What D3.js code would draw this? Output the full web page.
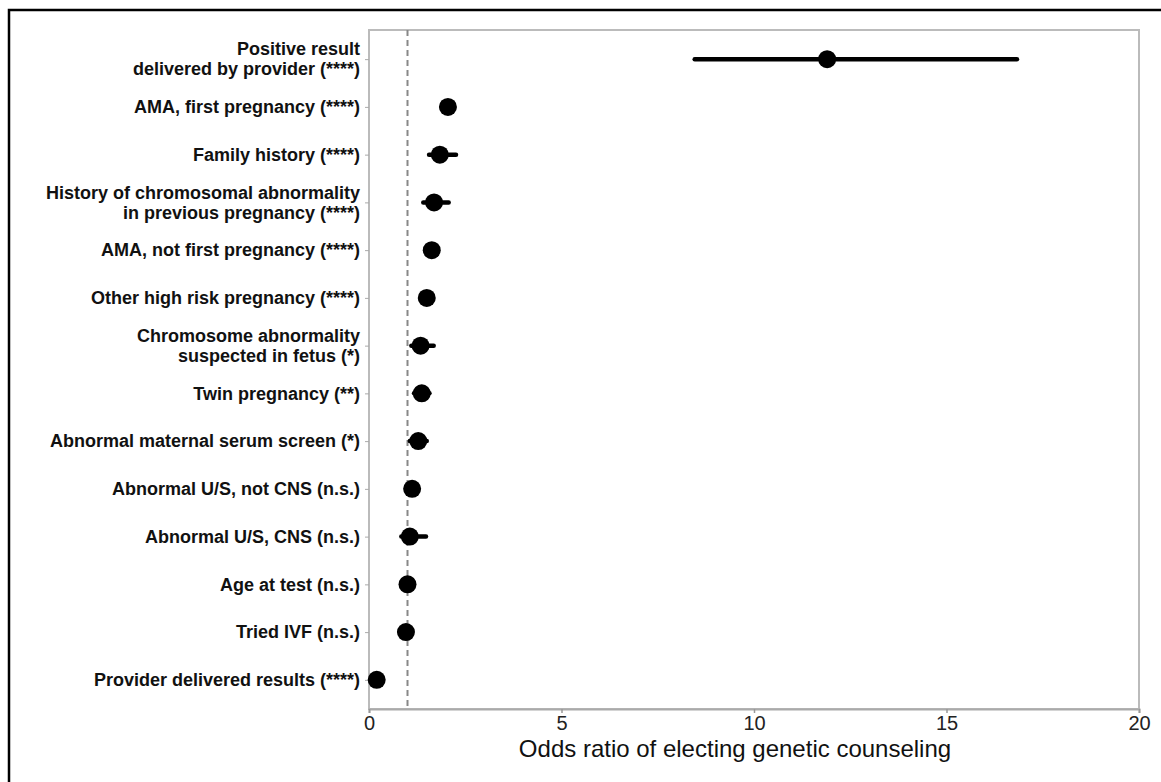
<!DOCTYPE html>
<html>
<head>
<meta charset="utf-8">
<script src="https://cdn.jsdelivr.net/npm/d3@7"></script>
<style>
  body { margin: 0; background: #fff; }
  .label { font-family: "Liberation Sans", Arial, sans-serif; font-weight: bold; fill: #111; }
  .axis text { font-family: "Liberation Sans", Arial, sans-serif; fill: #222; }
</style>
</head>
<body>
<div id="chart"></div>
<script>
// Odds ratio forest plot

// Data
const labels = [
  "Positive result\ndelivered by provider (****)",
  "AMA, first pregnancy (****)",
  "Family history (****)",
  "History of chromosomal abnormality\nin previous pregnancy (****)",
  "AMA, not first pregnancy (****)",
  "Other high risk pregnancy (****)",
  "Chromosome abnormality\nsuspected in fetus (*)",
  "Twin pregnancy (**)",
  "Abnormal maternal serum screen (*)",
  "Abnormal U/S, not CNS (n.s.)",
  "Abnormal U/S, CNS (n.s.)",
  "Age at test (n.s.)",
  "Tried IVF (n.s.)",
  "Provider delivered results (****)"
];
const oddsRatio = [11.9, 2.05, 1.84, 1.69, 1.63, 1.50, 1.34, 1.37, 1.28, 1.12, 1.06, 1.00, 0.96, 0.20];
const ciLow     = [8.46, 1.90, 1.56, 1.41, 1.50, 1.40, 1.10, 1.17, 1.06, 1.00, 0.84, 0.98, 0.86, 0.15];
const ciHigh    = [16.83, 2.20, 2.26, 2.07, 1.76, 1.60, 1.68, 1.57, 1.50, 1.25, 1.48, 1.03, 1.07, 0.27];
const xTicks = [0, 5, 10, 15, 20];

// SVG dimensions
const width = 1161;
const height = 782;
const margin = { top: 30, right: 22, bottom: 73, left: 369 };

const svg = d3.select("#chart")
  .append("svg")
  .attr("width", width)
  .attr("height", height);

// Outer frame
svg.append("rect")
  .attr("x", 9)
  .attr("y", 10)
  .attr("width", width + 20)
  .attr("height", height + 20)
  .attr("fill", "none")
  .attr("stroke", "#000")
  .attr("stroke-width", 2.5);

const chartWidth = width - margin.left - margin.right;
const chartHeight = height - margin.top - margin.bottom;

const chart = svg.append("g")
  .attr("transform", `translate(${margin.left}, ${margin.top})`);

// Scales
const xScale = d3.scaleLinear()
  .domain([0, 20])
  .range([0, chartWidth]);

const yScale = d3.scalePoint()
  .domain(labels)
  .range([0, chartHeight])
  .padding(0.61);

// Plot frame
chart.append("rect")
  .attr("width", chartWidth)
  .attr("height", chartHeight)
  .attr("fill", "none")
  .attr("stroke", "#bbb")
  .attr("stroke-width", 2);

// X axis
const xAxis = chart.append("g")
  .attr("class", "axis")
  .attr("transform", `translate(0, ${chartHeight})`)
  .call(d3.axisBottom(xScale).tickValues(xTicks).tickSize(4).tickPadding(3));

xAxis.select(".domain").attr("stroke", "#aaa").attr("stroke-width", 2);
xAxis.selectAll(".tick line").attr("stroke", "#999").attr("stroke-width", 1.5);
xAxis.selectAll("text").style("font-size", "20px");

// Y axis
const yAxis = chart.append("g")
  .attr("class", "axis")
  .call(d3.axisLeft(yScale).tickSize(4).tickFormat(""));

yAxis.select(".domain").remove();
yAxis.selectAll(".tick line").attr("stroke", "#aaa").attr("stroke-width", 1);

// Y labels
chart.selectAll(".label")
  .data(labels)
  .enter()
  .append("text")
  .attr("class", "label")
  .attr("text-anchor", "end")
  .style("font-size", "18px")
  .attr("transform", d => `translate(-9, ${yScale(d)})`)
  .each(function(d) {
    const lines = d.split("\n");
    const t = d3.select(this);
    lines.forEach((line, i) => {
      t.append("tspan")
        .attr("x", 0)
        .attr("y", (i - (lines.length - 1) / 2) * 20)
        .attr("dy", "0.35em")
        .text(line);
    });
  });

// Reference line at OR = 1
chart.append("line")
  .attr("x1", xScale(1))
  .attr("x2", xScale(1))
  .attr("y1", 0)
  .attr("y2", chartHeight)
  .attr("stroke", "#888")
  .attr("stroke-width", 2)
  .attr("stroke-dasharray", "6,4");

// Confidence intervals
chart.selectAll(".ci")
  .data(labels)
  .enter()
  .append("line")
  .attr("class", "ci")
  .attr("x1", (d, i) => xScale(ciLow[i]))
  .attr("x2", (d, i) => xScale(ciHigh[i]))
  .attr("y1", d => yScale(d))
  .attr("y2", d => yScale(d))
  .attr("stroke", "#000")
  .attr("stroke-width", 4.5)
  .attr("stroke-linecap", "round");

// Points
chart.selectAll(".dot")
  .data(labels)
  .enter()
  .append("circle")
  .attr("class", "dot")
  .attr("cx", (d, i) => xScale(oddsRatio[i]))
  .attr("cy", d => yScale(d))
  .attr("r", 9)
  .attr("fill", "#000");

// X axis label
svg.append("text")
  .attr("class", "label")
  .attr("x", 735)
  .attr("y", 757)
  .attr("text-anchor", "middle")
  .style("font-weight", "normal")
  .style("font-size", "24px")
  .text("Odds ratio of electing genetic counseling");
</script>
</body>
</html>
